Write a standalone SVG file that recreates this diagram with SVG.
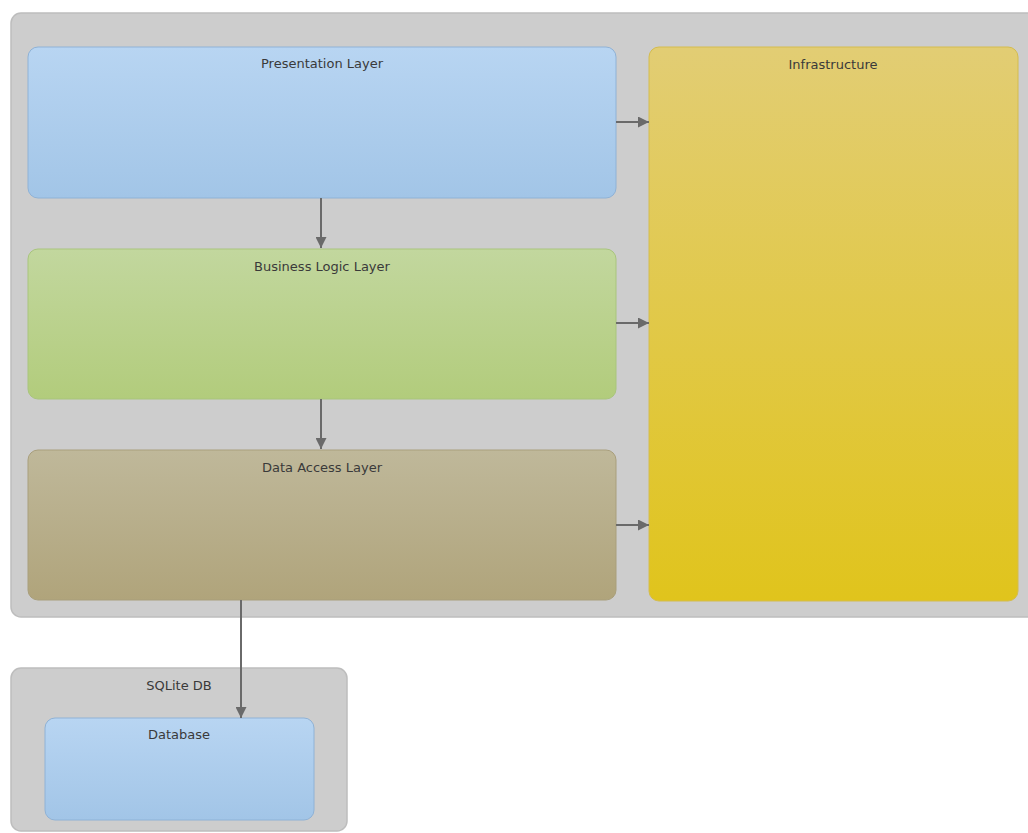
<svg xmlns="http://www.w3.org/2000/svg" width="1028" height="833" viewBox="0 0 1028 833">
  <style>
    .label { font-family: "DejaVu Sans", "Liberation Sans", sans-serif; font-size: 13px; fill: #3a3a3a; text-anchor: middle; }
    .container { fill: #cdcdcd; stroke: #bdbdbd; stroke-width: 1.5; }
    .conn { stroke: #6a6a6a; stroke-width: 2; fill: none; marker-end: url(#arrow); }
  </style>
  <defs>
    <marker id="arrow" viewBox="0 0 10 10" refX="10" refY="5" markerWidth="5.5" markerHeight="5.5" markerUnits="strokeWidth" orient="auto">
      <path d="M0,0 L10,5 L0,10 z" fill="#6a6a6a"/>
    </marker>
    <linearGradient id="gBlue" x1="0" y1="0" x2="0" y2="1">
      <stop offset="0" stop-color="#b8d5f2"/>
      <stop offset="1" stop-color="#a2c5e7"/>
    </linearGradient>
    <linearGradient id="gGreen" x1="0" y1="0" x2="0" y2="1">
      <stop offset="0" stop-color="#c2d79e"/>
      <stop offset="1" stop-color="#b2cc7c"/>
    </linearGradient>
    <linearGradient id="gBrown" x1="0" y1="0" x2="0" y2="1">
      <stop offset="0" stop-color="#bfb89a"/>
      <stop offset="1" stop-color="#b0a47b"/>
    </linearGradient>
    <linearGradient id="gYellow" x1="0" y1="0" x2="0" y2="1">
      <stop offset="0" stop-color="#e2cd74"/>
      <stop offset="1" stop-color="#e0c41c"/>
    </linearGradient>
    <linearGradient id="gGrey" x1="0" y1="0" x2="0" y2="1">
      <stop offset="0" stop-color="#d4d4d4"/>
      <stop offset="1" stop-color="#c8c8c8"/>
    </linearGradient>
  </defs>

  <rect width="1028" height="833" fill="#ffffff"/>

  <!-- application container -->
  <g id="application">
    <rect class="container" x="11" y="13" width="1030" height="604" rx="10" fill="url(#gGrey)"/>
  </g>

  <g id="presentation-layer">
    <rect x="28" y="47" width="588" height="151" rx="10" fill="url(#gBlue)" stroke="#8fb2d6" stroke-width="1"/>
    <text class="label" x="322" y="68">Presentation Layer</text>
  </g>

  <g id="business-logic-layer">
    <rect x="28" y="249" width="588" height="150" rx="10" fill="url(#gGreen)" stroke="#a9c57d" stroke-width="1"/>
    <text class="label" x="322" y="271">Business Logic Layer</text>
  </g>

  <g id="data-access-layer">
    <rect x="28" y="450" width="588" height="150" rx="10" fill="url(#gBrown)" stroke="#a99f7c" stroke-width="1"/>
    <text class="label" x="322" y="472">Data Access Layer</text>
  </g>

  <g id="infrastructure">
    <rect x="649" y="47" width="369" height="554" rx="10" fill="url(#gYellow)" stroke="#d4bc4e" stroke-width="1"/>
    <text class="label" x="833" y="69">Infrastructure</text>
  </g>

  <!-- database host container -->
  <g id="sqlite-db">
    <rect class="container" x="11" y="668" width="336" height="163" rx="10" fill="url(#gGrey)"/>
    <text class="label" x="179" y="690">SQLite DB</text>
  </g>

  <g id="database">
    <rect x="45" y="718" width="269" height="102" rx="10" fill="url(#gBlue)" stroke="#8fb2d6" stroke-width="1"/>
    <text class="label" x="179" y="739">Database</text>
  </g>

  <g id="connectors">
    <line class="conn" x1="321" y1="198" x2="321" y2="248"/>
    <line class="conn" x1="321" y1="399" x2="321" y2="449"/>
    <line class="conn" x1="616" y1="122" x2="649" y2="122"/>
    <line class="conn" x1="616" y1="323" x2="649" y2="323"/>
    <line class="conn" x1="616" y1="525" x2="649" y2="525"/>
    <line class="conn" x1="241" y1="600" x2="241" y2="718"/>
  </g>
</svg>
